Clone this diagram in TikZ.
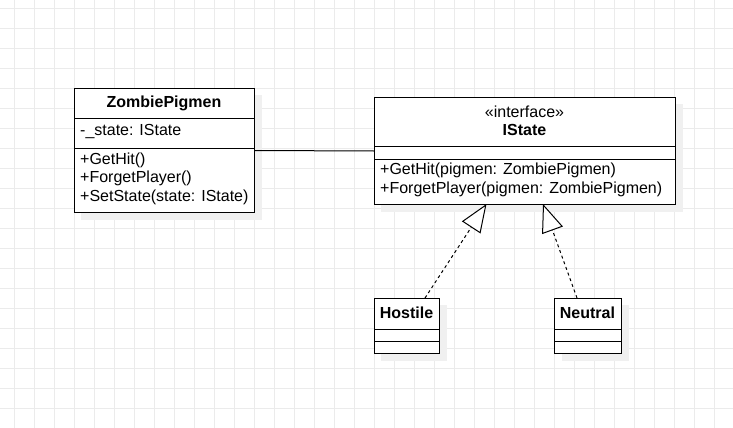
\documentclass[tikz,border=0pt]{standalone}
\usepackage{fontspec}
\setmainfont{Liberation Sans}
\usetikzlibrary{arrows.meta,calc}
\definecolor{gridc}{HTML}{EBEBEB}
\definecolor{shad}{HTML}{F0F0F0}
\tikzset{
  classbox/.style={draw=black, line width=1pt, fill=white, anchor=north west, inner sep=0pt},
  lbl/.style={font=\fontsize{16}{19}\selectfont, inner sep=0pt, anchor=west},
  ctr/.style={font=\fontsize{16}{19}\selectfont, inner sep=0pt},
  bld/.style={font=\fontsize{16}{19}\selectfont\bfseries, inner sep=0pt},
  sep/.style={line width=1pt},
  assoc/.style={line width=1pt},
  realize/.style={line width=1pt, dash pattern=on 3pt off 3pt, -{Triangle[open, length=28pt, width=22pt, fill=white]}},
}
\begin{document}
\begin{tikzpicture}[x=1pt,y=-1pt]
\useasboundingbox (0,0) rectangle (733,428);
\fill[white] (0,0) rectangle (733,428);
% grid
\foreach \x in {14,34,...,733} \draw[gridc, line width=0.8pt] (\x,0) -- (\x,428);
\foreach \y in {8,28,...,428} \draw[gridc, line width=0.8pt] (0,\y) -- (733,\y);
% shadows
\fill[shad] (81,95) rectangle (262,220);
\fill[shad] (381,104) rectangle (683,212);
\fill[shad] (381,305) rectangle (447,361);
\fill[shad] (562,305) rectangle (629,361);
% ZombiePigmen
\node[classbox, minimum width=180pt, minimum height=124pt] (zp) at (74,88) {};
\draw[sep] (74,118) -- (254,118);
\draw[sep] (74,148) -- (254,148);
\node[bld] (zpt) at (164,103) {ZombiePigmen};
\node[lbl] (zpa) at (80,132) {-\_state: IState};
\node[lbl] (zpm1) at (80,160) {+GetHit()};
\node[lbl] (zpm2) at (80,178.5) {+ForgetPlayer()};
\node[lbl] (zpm3) at (80,197) {+SetState(state: IState)};
% IState
\node[classbox, minimum width=301pt, minimum height=107pt] (is) at (374,97) {};
\draw[sep] (374,146) -- (675,146);
\draw[sep] (374,159) -- (675,159);
\node[ctr] (ist) at (524.5,111.5) {«interface»};
\node[bld] (isn) at (524.5,130) {IState};
\node[lbl] (ism1) at (380,170.5) {+GetHit(pigmen: ZombiePigmen)};
\node[lbl] (ism2) at (380,189) {+ForgetPlayer(pigmen: ZombiePigmen)};
% Hostile
\node[classbox, minimum width=65pt, minimum height=55pt] (ho) at (374,298) {};
\draw[sep] (374,329) -- (439,329);
\draw[sep] (374,341.5) -- (439,341.5);
\node[bld] (hot) at (406.5,313) {Hostile};
% Neutral
\node[classbox, minimum width=67pt, minimum height=55pt] (ne) at (554,298) {};
\draw[sep] (554,329) -- (621,329);
\draw[sep] (554,341.5) -- (621,341.5);
\node[bld] (net) at (587.5,313) {Neutral};
% connectors
\draw[assoc] (zp.east) -- (is.west);
\coordinate (hs) at (425,298);
\coordinate (ht) at (486.5,204);
\coordinate (ns) at (577,298);
\coordinate (nt) at (543,204);
\draw[realize] (hs) -- (ht);
\draw[realize] (ns) -- (nt);
\end{tikzpicture}
\end{document}
